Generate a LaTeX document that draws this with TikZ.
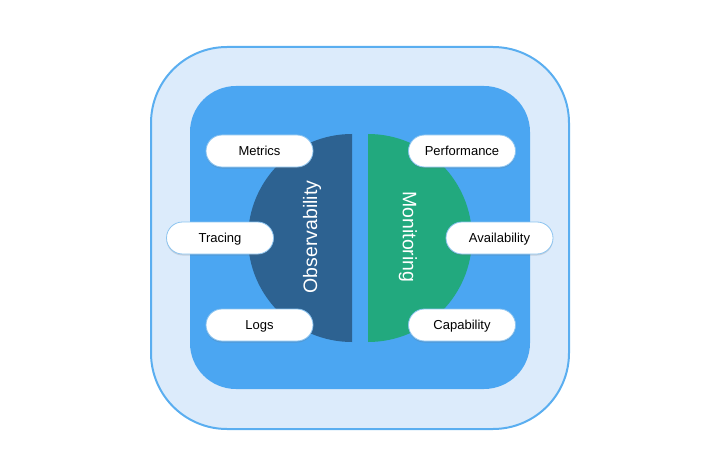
\documentclass[tikz,border=0pt]{standalone}
\usepackage{fontspec}
\setmainfont{Liberation Sans}
\usetikzlibrary{shadows}
\definecolor{outerfill}{HTML}{DCEBFB}
\definecolor{outerline}{HTML}{5AAEF0}
\definecolor{innerfill}{HTML}{4BA6F2}
\definecolor{obsfill}{HTML}{2D6291}
\definecolor{monfill}{HTML}{22A97E}
\definecolor{pillline}{HTML}{8CC4F0}
\tikzset{
  pill/.style={draw=pillline, line width=0.8pt, fill=white, rounded corners=16pt,
    minimum width=107pt, minimum height=32pt, inner sep=0pt,
    text height=8pt, text depth=0pt,
    font=\fontsize{13}{15}\selectfont, text=black,
    drop shadow={shadow xshift=0pt, shadow yshift=-1.5pt, opacity=0.2, fill=black!60}},
  bigtext/.style={font=\fontsize{19.5}{22}\selectfont, text=white, inner sep=0pt}
}
\begin{document}
\begin{tikzpicture}[x=1pt,y=-1pt]
\useasboundingbox (0,0) rectangle (720,476);
% outer frame
\node[draw=outerline, line width=2pt, fill=outerfill, rounded corners=76pt,
  minimum width=418pt, minimum height=382pt, inner sep=0pt] (outer) at (360,238) {};
% inner panel
\node[fill=innerfill, rounded corners=46pt,
  minimum width=340pt, minimum height=303pt, inner sep=0pt] (inner) at (360,237.5) {};
% half discs
\fill[obsfill] (352,134) arc[start angle=270, end angle=90, radius=104] -- cycle;
\fill[monfill] (368,134) arc[start angle=-90, end angle=90, radius=104] -- cycle;
\node[bigtext, rotate=90] (obs) at (312,237) {Observability};
\node[bigtext, rotate=-90] (mon) at (408,237) {Monitoring};
% pills
\node[pill] (metrics) at (259.5,151) {Metrics};
\node[pill] (tracing) at (220,238) {Tracing};
\node[pill] (logs) at (259.5,325) {Logs};
\node[pill] (perf) at (462,151) {Performance};
\node[pill] (avail) at (499.5,238) {Availability};
\node[pill] (capab) at (462,325) {Capability};
\end{tikzpicture}
\end{document}
